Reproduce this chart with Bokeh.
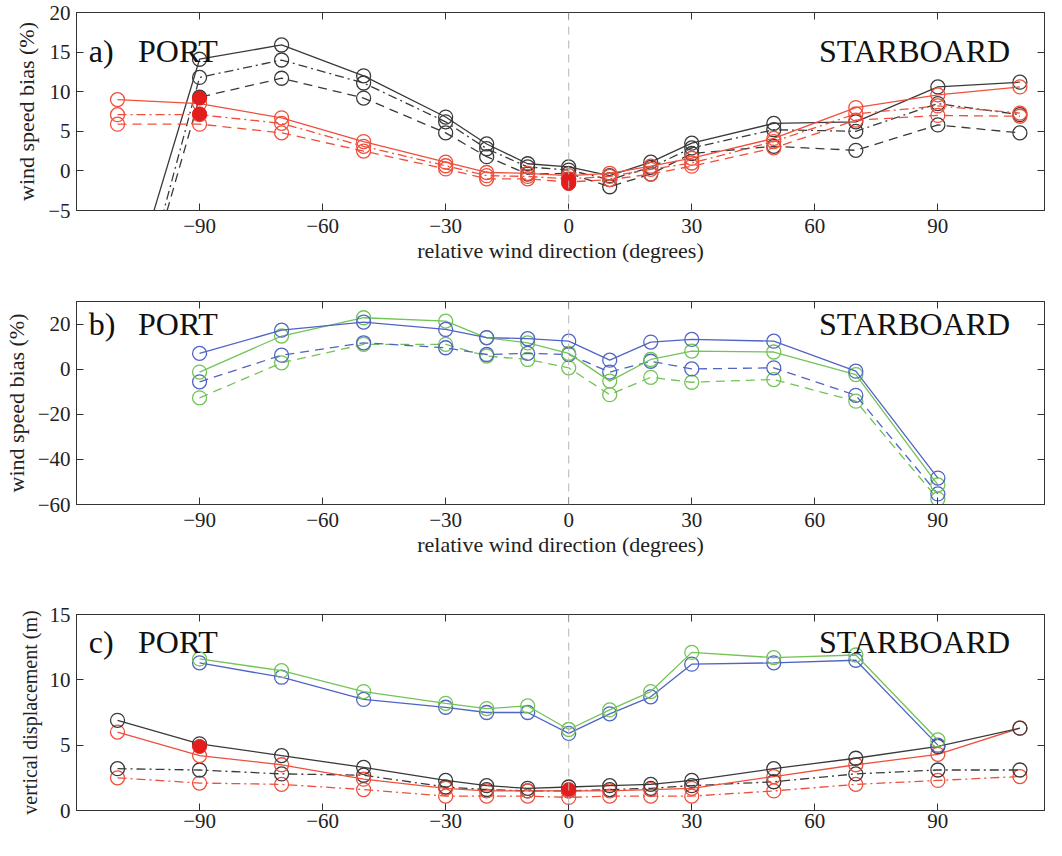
from bokeh.plotting import figure
from bokeh.layouts import column
from bokeh.models import (Range1d, FixedTicker, Span, Label, LinearAxis,
                          CustomJSTickFormatter)
from bokeh.embed import file_html
from bokeh.resources import INLINE

FONT = "Liberation Serif"

# ---------------- data ----------------
direction = [-110, -90, -70, -50, -30, -20, -10, 0, 10, 20, 30, 50, 70, 90, 110]
direction_b = [-90, -70, -50, -30, -20, -10, 0, 10, 20, 30, 50, 70, 90]
x_ticks = [-90, -60, -30, 0, 30, 60, 90]

# panel a: wind speed bias (%)
a_black_solid = [-20.3, 14.1, 15.9, 12.0, 6.8, 3.4, 0.9, 0.5, -0.6, 1.1, 3.5, 6.0, 6.2, 10.6, 11.2]
a_black_dashdot = [-26.8, 11.8, 14.0, 11.1, 6.2, 2.8, 0.5, 0.1, -1.1, 0.45, 2.9, 5.2, 5.0, 8.5, 7.1]
a_black_dashed = [-26.9, 9.3, 11.7, 9.2, 4.8, 1.8, -0.4, -0.3, -2.0, -0.4, 2.2, 3.1, 2.6, 5.8, 4.8]
a_red_solid = [9.0, 8.5, 6.7, 3.7, 1.1, -0.2, -0.3, -0.6, -0.3, 0.6, 1.6, 4.1, 8.0, 9.6, 10.6]
a_red_dashdot = [7.1, 7.1, 6.0, 3.1, 0.65, -0.6, -0.7, -1.0, -0.7, 0.2, 1.0, 3.7, 7.2, 8.2, 7.3]
a_red_dashed = [5.9, 5.9, 4.8, 2.5, 0.25, -1.0, -1.0, -1.4, -1.1, -0.4, 0.6, 2.9, 6.4, 7.0, 6.9]
a_filled_x = [-90, -90, 0, 0]
a_filled_y = [9.2, 7.2, -1.1, -1.6]
a_y_ticks = [-5, 0, 5, 10, 15, 20]

# panel b: wind speed bias (%)
b_blue_solid = [7.0, 17.3, 20.9, 17.6, 14.0, 13.5, 12.4, 4.0, 12.0, 13.2, 12.4, -0.9, -48.3]
b_green_solid = [-1.3, 14.7, 22.8, 21.3, 13.9, 11.7, 7.0, -5.3, 4.3, 8.0, 7.6, -2.4, -51.3]
b_blue_dashed = [-5.6, 6.2, 11.7, 9.5, 6.5, 7.0, 6.5, -1.3, 3.5, 0.1, 0.6, -11.6, -55.3]
b_green_dashed = [-12.7, 2.8, 11.0, 11.0, 5.8, 4.3, 0.6, -11.3, -3.6, -5.8, -4.6, -14.2, -57.6]
b_y_ticks = [-60, -40, -20, 0, 20]

# panel c: vertical displacement (m)
c_black_solid = [6.9, 5.1, 4.2, 3.3, 2.3, 1.9, 1.7, 1.8, 1.9, 2.0, 2.3, 3.2, 4.0, 4.9, 6.3]
c_red_solid = [6.0, 4.2, 3.5, 2.4, 1.7, 1.5, 1.5, 1.5, 1.5, 1.6, 1.7, 2.6, 3.5, 4.3, 6.3]
c_black_dashdot = [3.2, 3.1, 2.8, 2.7, 1.8, 1.6, 1.5, 1.5, 1.6, 1.7, 1.9, 2.2, 2.8, 3.1, 3.1]
c_red_dashdot = [2.5, 2.1, 2.0, 1.6, 1.1, 1.1, 1.1, 1.0, 1.1, 1.1, 1.1, 1.5, 2.0, 2.3, 2.6]
c_green = [11.6, 10.7, 9.1, 8.2, 7.8, 8.0, 6.2, 7.7, 9.1, 12.1, 11.7, 11.9, 5.4]
c_blue = [11.3, 10.2, 8.5, 7.9, 7.5, 7.5, 5.9, 7.4, 8.7, 11.2, 11.3, 11.5, 5.0]
c_filled_x = [-90, 0]
c_filled_y = [4.9, 1.6]
c_y_ticks = [0, 5, 10, 15]

# ---------------- style ----------------
BLACK = "#3a3a3a"
RED = "#ef4f3c"
RED_FILL = "#e51c1c"
BLUE = "#5064c4"
GREEN = "#72c457"
AX = "#333333"
SOLID = "solid"
DASHED = "9 6"
DASHDOT = "9 4 2 4"

minus_fmt = "return tick < 0 ? '\\u2212' + Math.abs(tick) : '' + tick;"


def make_fig(height, y_range, y_ticks, ylabel, xlabel, bl, bt, bb, xstand,
             ylab_size="22px"):
    p = figure(width=1046, height=height, x_range=Range1d(-120, 116),
               y_range=Range1d(*y_range), output_backend="svg",
               toolbar_location=None, min_border_left=bl, min_border_right=2,
               min_border_top=bt, min_border_bottom=bb)
    p.grid.visible = False
    p.outline_line_color = AX
    p.outline_line_width = 1
    p.background_fill_color = "white"
    p.border_fill_color = "white"
    for ax in (p.xaxis[0], p.yaxis[0]):
        ax.major_tick_in = 7
        ax.major_tick_out = 0
        ax.minor_tick_in = 0
        ax.minor_tick_out = 0
        ax.axis_line_color = AX
        ax.major_tick_line_color = AX
        ax.major_label_text_font = FONT
        ax.major_label_text_font_size = "21px"
        ax.major_label_text_color = "#222"
        ax.axis_label_text_font = FONT
        ax.axis_label_text_font_size = "22px"
        ax.axis_label_text_font_style = "normal"
        ax.axis_label_text_color = "#222"
        ax.formatter = CustomJSTickFormatter(code=minus_fmt)
    p.xaxis[0].ticker = FixedTicker(ticks=x_ticks)
    p.yaxis[0].ticker = FixedTicker(ticks=y_ticks)
    p.xaxis[0].major_label_standoff = xstand
    p.yaxis[0].major_label_standoff = 6
    p.yaxis[0].axis_label = ylabel
    p.yaxis[0].axis_label_standoff = 6
    p.yaxis[0].axis_label_text_font_size = ylab_size
    if xlabel:
        p.xaxis[0].axis_label = xlabel
        p.xaxis[0].axis_label_standoff = 2
    # mirrored tick marks on top and right
    top = LinearAxis(ticker=FixedTicker(ticks=x_ticks))
    right = LinearAxis(ticker=FixedTicker(ticks=y_ticks))
    for ax in (top, right):
        ax.formatter = CustomJSTickFormatter(code="return '';")
        ax.major_label_text_font_size = "0px"
        ax.major_label_standoff = 0
        ax.major_tick_in = 7
        ax.major_tick_out = 0
        ax.minor_tick_in = 0
        ax.minor_tick_out = 0
        ax.axis_line_color = AX
        ax.major_tick_line_color = AX
    p.add_layout(top, "above")
    p.add_layout(right, "right")
    p.add_layout(Span(location=0, dimension="height", line_color="#b5b5b5",
                      line_dash="8 6", line_width=1))
    return p


def series(p, x, y, color, dash):
    p.line(x, y, line_color=color, line_width=1.3, line_dash=dash)
    p.scatter(x, y, marker="circle", size=14, fill_color=None,
              line_color=color, line_width=1.3)


def labels(p, tag, y):
    for txt, x in ((tag, -117), ("PORT", -105), ("STARBOARD", 61)):
        p.add_layout(Label(x=x, y=y, text=txt, text_font=FONT,
                           text_font_size="32px", text_color="#111",
                           text_baseline="middle"))


XLAB = "relative wind direction (degrees)"

# panel a
pa = make_fig(291, (-5, 20), a_y_ticks, "wind speed bias (%)", XLAB, 65, 12, 81, 8)
series(pa, direction, a_black_dashed, BLACK, DASHED)
series(pa, direction, a_black_dashdot, BLACK, DASHDOT)
series(pa, direction, a_black_solid, BLACK, SOLID)
series(pa, direction, a_red_dashed, RED, DASHED)
series(pa, direction, a_red_dashdot, RED, DASHDOT)
series(pa, direction, a_red_solid, RED, SOLID)
pa.scatter(a_filled_x, a_filled_y, marker="circle", size=14,
           fill_color=RED_FILL, line_color=RED_FILL)
labels(pa, "a)", 15.2)

# panel b
pb = make_fig(311, (-60, 30), b_y_ticks, "wind speed bias (%)", XLAB, 69, 10, 98, 8)
series(pb, direction_b, b_green_dashed, GREEN, DASHED)
series(pb, direction_b, b_blue_dashed, BLUE, DASHED)
series(pb, direction_b, b_green_solid, GREEN, SOLID)
series(pb, direction_b, b_blue_solid, BLUE, SOLID)
labels(pb, "b)", 20)

# panel c
pc = make_fig(238, (0, 15), c_y_ticks, "vertical displacement (m)", None, 65, 12, 30, 3,
              ylab_size="20px")
series(pc, direction, c_red_dashdot, RED, DASHDOT)
series(pc, direction, c_black_dashdot, BLACK, DASHDOT)
series(pc, direction, c_red_solid, RED, SOLID)
series(pc, direction, c_black_solid, BLACK, SOLID)
series(pc, direction_b, c_blue, BLUE, SOLID)
series(pc, direction_b, c_green, GREEN, SOLID)
pc.scatter(c_filled_x, c_filled_y, marker="circle", size=14,
           fill_color=RED_FILL, line_color=RED_FILL)
labels(pc, "c)", 12.9)

layout = column(pa, pb, pc, spacing=0)
open("out.html", "w").write(file_html(layout, INLINE))
